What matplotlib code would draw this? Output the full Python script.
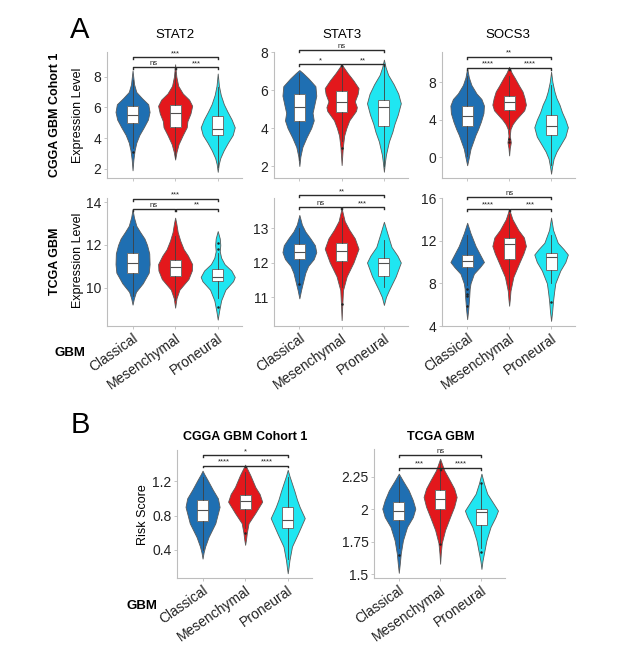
import numpy as np
import matplotlib
matplotlib.use('Agg')
import matplotlib.pyplot as plt

plt.rcParams['font.family'] = ['Liberation Sans', 'DejaVu Sans']

W, H = 630, 653

groups = ['Classical', 'Mesenchymal', 'Proneural']
group_colors = ['#1f6fb2', '#e3181c', '#1fe6f1']

# violin outlines: (value, relative half width)
# boxes: (whisker low, q1, median, q3, whisker high)

# CGGA GBM cohort 1 - STAT2
cgga_stat2_shape = [
    [(1.9, 0), (2.6, .05), (3.2, .12), (3.7, .22), (4.2, .4), (4.7, .66), (5.2, .9), (5.7, 1), (6.2, .92), (6.6, .55), (7.0, .22), (7.5, .09), (8.0, .04), (8.4, 0)],
    [(2.6, 0), (3.1, .08), (3.6, .2), (4.2, .45), (4.7, .68), (5.1, .72), (5.6, .9), (6.1, 1), (6.5, .82), (6.9, .45), (7.4, .18), (8.0, .07), (8.8, 0)],
    [(1.8, 0), (2.3, .06), (2.7, .15), (3.2, .35), (3.7, .6), (4.2, .88), (4.7, 1), (5.2, .82), (5.7, .58), (6.2, .36), (6.8, .18), (7.4, .07), (8.2, 0)],
]
cgga_stat2_box = [(3.35, 5.0, 5.5, 6.1, 7.75), (2.7, 4.72, 5.63, 6.13, 8.3), (2.1, 4.18, 4.6, 5.46, 7.3)]
cgga_stat2_fliers = [[3.07], [], []]
cgga_stat2_sig = (9.26, '***', 8.63, 'ns', '***')

# CGGA GBM cohort 1 - STAT3
cgga_stat3_shape = [
    [(2.0, 0), (2.5, .06), (3.0, .18), (3.5, .42), (4.0, .7), (4.4, .85), (4.8, .78), (5.2, .88), (5.7, 1), (6.2, .95), (6.6, .55), (6.9, .2), (7.05, 0)],
    [(2.05, 0), (2.6, .04), (3.0, .07), (3.6, .15), (4.0, .28), (4.4, .45), (4.9, .85), (5.1, .9), (5.4, .78), (5.8, .95), (6.1, 1), (6.5, .7), (6.9, .35), (7.35, 0)],
    [(1.7, 0), (2.2, .06), (2.6, .12), (3.3, .3), (3.8, .5), (4.2, .62), (4.7, .82), (5.3, 1), (5.8, .85), (6.3, .58), (6.8, .25), (7.2, .1), (7.6, 0)],
]
cgga_stat3_box = [(2.3, 4.37, 5.12, 5.79, 6.9), (3.3, 4.82, 5.35, 5.95, 7.3), (2.0, 4.12, 5.1, 5.47, 7.3)]
cgga_stat3_fliers = [[], [2.95], []]
cgga_stat3_sig = (8.1, 'ns', 7.35, '*', '**')

# CGGA GBM cohort 1 - SOCS3
cgga_socs3_shape = [
    [(-0.85, 0), (0.0, .1), (0.9, .2), (1.8, .38), (2.4, .5), (3.0, .65), (3.8, .82), (4.7, .97), (5.5, 1), (6.2, .85), (6.8, .55), (7.7, .25), (8.5, .1), (9.46, 0)],
    [(0.2, 0), (1.0, .04), (1.6, .1), (2.3, .04), (3.0, .08), (3.5, .2), (4.0, .4), (4.5, .65), (5.0, .9), (5.6, 1), (6.3, .92), (7.0, .8), (7.6, .6), (8.4, .35), (9.0, .15), (9.63, 0)],
    [(-1.74, 0), (-1.0, .06), (-0.14, .15), (0.6, .32), (1.3, .55), (2.2, .85), (3.2, 1), (4.0, .85), (4.8, .65), (5.6, .5), (6.3, .32), (7.0, .2), (8.0, .08), (9.1, 0)],
]
cgga_socs3_box = [(0.1, 3.3, 4.4, 5.44, 8.6), (3.0, 5.08, 5.83, 6.54, 8.7), (-0.8, 2.42, 3.34, 4.55, 7.7)]
cgga_socs3_fliers = [[], [1.6, 1.9], []]
cgga_socs3_sig = (10.7, '**', 9.53, '****', '****')

# TCGA GBM - STAT2
tcga_stat2_shape = [
    [(9.2, 0), (9.5, .08), (9.8, .2), (10.2, .6), (10.7, .95), (11.1, 1), (11.6, .98), (12.0, .85), (12.3, .7), (12.6, .45), (12.9, .22), (13.3, .08), (13.67, 0)],
    [(9.06, 0), (9.5, .08), (9.9, .25), (10.4, .78), (10.8, .98), (11.1, 1), (11.5, .75), (11.8, .5), (12.2, .3), (12.6, .15), (13.0, .07), (13.28, 0)],
    [(8.5, 0), (8.9, .08), (9.4, .2), (9.9, .45), (10.3, .9), (10.5, 1), (10.8, .8), (11.1, .4), (11.4, .2), (11.7, .12), (12.0, .15), (12.3, .12), (12.65, 0)],
]
tcga_stat2_box = [(9.6, 10.69, 11.16, 11.6, 12.9), (9.4, 10.53, 10.97, 11.29, 12.4), (9.5, 10.3, 10.5, 10.85, 11.6)]
tcga_stat2_fliers = [[], [], [12.07, 11.79, 9.09]]
tcga_stat2_sig = (14.17, '***', 13.7, 'ns', '**')

# TCGA GBM - STAT3
tcga_stat3_shape = [
    [(10.96, 0), (11.2, .1), (11.5, .25), (11.7, .35), (11.9, .52), (12.1, .85), (12.3, 1), (12.5, .92), (12.7, .65), (12.9, .35), (13.1, .15), (13.38, 0)],
    [(10.33, 0), (10.8, .04), (11.2, .08), (11.6, .3), (12.0, .7), (12.4, 1), (12.7, .78), (12.95, .45), (13.2, .18), (13.57, 0)],
    [(10.77, 0), (11.0, .12), (11.2, .3), (11.6, .7), (12.0, 1), (12.2, .8), (12.45, .45), (12.85, .2), (13.18, 0)],
]
tcga_stat3_box = [(11.4, 12.09, 12.31, 12.53, 13.0), (11.3, 12.05, 12.33, 12.56, 13.3), (11.3, 11.61, 11.98, 12.12, 12.65)]
tcga_stat3_fliers = [[11.37], [10.8], []]
tcga_stat3_sig = (13.96, '**', 13.6, 'ns', '***')

# TCGA GBM - SOCS3
tcga_socs3_shape = [
    [(4.64, 0), (5.5, .06), (6.7, .12), (7.5, .15), (8.0, .2), (8.9, .4), (9.5, .75), (10.0, 1), (10.6, .8), (11.5, .5), (12.7, .2), (13.68, 0)],
    [(5.9, 0), (6.5, .04), (7.3, .08), (8.6, .25), (9.9, .6), (10.8, .85), (11.5, 1), (12.3, .88), (13.0, .55), (14.0, .2), (14.95, 0)],
    [(4.48, 0), (5.3, .06), (6.4, .12), (7.2, .18), (8.0, .25), (9.2, .55), (10.0, .85), (10.7, 1), (11.2, .75), (11.8, .4), (13.0, .12), (14.16, 0)],
]
tcga_socs3_box = [(7.8, 9.49, 10.1, 10.67, 12.5), (7.5, 10.29, 11.68, 12.25, 14.5), (8.0, 9.24, 10.5, 10.83, 12.5)]
tcga_socs3_fliers = [[7.5, 7.0, 6.8, 5.9], [], [6.22]]
tcga_socs3_sig = (16.07, 'ns', 15.0, '****', '***')

# risk score - CGGA GBM cohort 1
cgga_risk_shape = [
    [(0.30, 0), (0.37, .06), (0.44, .15), (0.55, .35), (0.71, .75), (0.9, 1), (1.0, .9), (1.1, .6), (1.21, .3), (1.28, .1), (1.32, 0)],
    [(0.46, 0), (0.52, .05), (0.6, .1), (0.71, .2), (0.83, .6), (0.96, 1), (1.05, .85), (1.13, .6), (1.27, .3), (1.39, 0)],
    [(0.13, 0), (0.2, .05), (0.28, .1), (0.44, .25), (0.59, .6), (0.77, 1), (0.9, .7), (0.98, .55), (1.08, .4), (1.17, .25), (1.26, .1), (1.33, 0)],
]
cgga_risk_box = [(0.4, 0.74, 0.86, 0.98, 1.25), (0.65, 0.88, 0.97, 1.04, 1.3), (0.3, 0.66, 0.75, 0.90, 1.25)]
cgga_risk_fliers = [[], [0.6], []]
cgga_risk_sig = (1.50, '*', 1.38, '****', '****')

# risk score - TCGA GBM
tcga_risk_shape = [
    [(1.51, 0), (1.58, .06), (1.66, .12), (1.76, .25), (1.864, .5), (1.94, .85), (2.005, 1), (2.07, .85), (2.146, .6), (2.22, .25), (2.275, 0)],
    [(1.58, 0), (1.66, .04), (1.74, .1), (1.84, .3), (1.94, .6), (2.02, .85), (2.095, 1), (2.16, .85), (2.22, .6), (2.3, .25), (2.39, 0)],
    [(1.54, 0), (1.6, .06), (1.66, .15), (1.76, .3), (1.864, .55), (1.94, .85), (1.99, 1), (2.05, .7), (2.12, .35), (2.2, .15), (2.275, 0)],
]
tcga_risk_box = [(1.7, 1.92, 1.99, 2.06, 2.25), (1.75, 2.0, 2.08, 2.15, 2.37), (1.7, 1.88, 1.98, 2.005, 2.2)]
tcga_risk_fliers = [[1.65], [1.73], [2.2, 1.67]]
tcga_risk_sig = (2.415, 'ns', 2.32, '***', '****')


def rect(x0, y0, x1, y1):
    return [x0 / W, 1 - y1 / H, (x1 - x0) / W, (y1 - y0) / H]


def ftext(x, y, s, **kw):
    fig.text(x / W, 1 - y / H, s, **kw)


def draw_panel(ax, shapes, boxes, fliers, sig, ylim, yticks, yticklabels=None, xlabels=True):
    pos = [1, 2, 3]
    vstats = []
    for shape, b in zip(shapes, boxes):
        ys = np.array([p[0] for p in shape])
        ws = np.array([p[1] for p in shape])
        vstats.append(dict(coords=ys, vals=ws, mean=b[2], median=b[2], min=ys.min(), max=ys.max()))
    parts = ax.violin(vstats, positions=pos, widths=0.8, showextrema=False)
    for body, c in zip(parts['bodies'], group_colors):
        body.set_facecolor(c)
        body.set_edgecolor('#5a5a5a')
        body.set_linewidth(0.6)
        body.set_alpha(1)

    bstats = [dict(whislo=b[0], q1=b[1], med=b[2], q3=b[3], whishi=b[4], fliers=f)
              for b, f in zip(boxes, fliers)]
    ax.bxp(bstats, positions=pos, widths=0.26, patch_artist=True, showcaps=False,
           manage_ticks=False,
           boxprops=dict(facecolor='white', edgecolor='#707070', linewidth=0.7),
           medianprops=dict(color='#505050', linewidth=0.8),
           whiskerprops=dict(color='#404040', linewidth=0.6),
           flierprops=dict(marker='o', markersize=1.8, markerfacecolor='#222222',
                           markeredgecolor='none'))

    # significance brackets
    d = 0.015 * (ylim[1] - ylim[0])
    top, top_lab, low, left_lab, right_lab = sig
    kw = dict(color='#2b2b2b', lw=1.0, clip_on=False)
    ax.plot([1, 1, 3, 3], [top - d, top, top, top - d], **kw)
    ax.plot([1, 1, 1.99, 1.99], [low - d, low, low, low - d], **kw)
    ax.plot([2.01, 2.01, 3, 3], [low - d, low, low, low - d], **kw)
    tk = dict(ha='center', va='bottom', fontsize=5.5, color='#222222')
    ax.text(2, top, top_lab, **tk)
    ax.text(1.5, low, left_lab, **tk)
    ax.text(2.5, low, right_lab, **tk)

    ax.set_xlim(0.4, 3.57)
    ax.set_ylim(*ylim)
    ax.set_yticks(yticks)
    if yticklabels is not None:
        ax.set_yticklabels(yticklabels)
    ax.set_xticks(pos)
    if xlabels:
        ax.set_xticklabels(groups, rotation=35, ha='right', rotation_mode='anchor', fontsize=9.5)
    else:
        ax.set_xticklabels([])
    for s in ['top', 'right']:
        ax.spines[s].set_visible(False)
    for s in ['left', 'bottom']:
        ax.spines[s].set_color('#bdbdbd')
        ax.spines[s].set_linewidth(0.8)
    ax.tick_params(length=2, width=0.6, color='#bdbdbd', labelsize=10,
                   labelcolor='#222222', pad=2)


fig = plt.figure(figsize=(6.3, 6.53), dpi=100)

ax1 = fig.add_axes(rect(107, 52, 242, 178))
draw_panel(ax1, cgga_stat2_shape, cgga_stat2_box, cgga_stat2_fliers, cgga_stat2_sig,
           (1.4, 9.6), [2, 4, 6, 8], xlabels=False)
ax2 = fig.add_axes(rect(274, 52, 408, 178))
draw_panel(ax2, cgga_stat3_shape, cgga_stat3_box, cgga_stat3_fliers, cgga_stat3_sig,
           (1.37, 8.0), [2, 4, 6, 8], xlabels=False)
ax3 = fig.add_axes(rect(442, 52, 575, 178))
draw_panel(ax3, cgga_socs3_shape, cgga_socs3_box, cgga_socs3_fliers, cgga_socs3_sig,
           (-2.2, 11.2), [0, 4, 8], xlabels=False)

ax4 = fig.add_axes(rect(107, 198, 242, 326))
draw_panel(ax4, tcga_stat2_shape, tcga_stat2_box, tcga_stat2_fliers, tcga_stat2_sig,
           (8.2, 14.2), [10, 12, 14])
ax5 = fig.add_axes(rect(274, 198, 408, 326))
draw_panel(ax5, tcga_stat3_shape, tcga_stat3_box, tcga_stat3_fliers, tcga_stat3_sig,
           (10.16, 13.87), [11, 12, 13])
ax6 = fig.add_axes(rect(442, 198, 575, 326))
draw_panel(ax6, tcga_socs3_shape, tcga_socs3_box, tcga_socs3_fliers, tcga_socs3_sig,
           (4, 16), [4, 8, 12, 16])

ax7 = fig.add_axes(rect(177, 450, 312, 578))
draw_panel(ax7, cgga_risk_shape, cgga_risk_box, cgga_risk_fliers, cgga_risk_sig,
           (0.075, 1.56), [0.4, 0.8, 1.2])
ax8 = fig.add_axes(rect(374, 449, 505, 578))
draw_panel(ax8, tcga_risk_shape, tcga_risk_box, tcga_risk_fliers, tcga_risk_sig,
           (1.47, 2.465), [1.5, 1.75, 2, 2.25], ['1.5', '1.75', '2', '2.25'])

# panel letters, titles and side labels
ftext(80, 30, 'A', fontsize=21, ha='center', va='center')
ftext(80, 425, 'B', fontsize=21, ha='center', va='center')
for x, t in [(175, 'STAT2'), (342, 'STAT3'), (508, 'SOCS3')]:
    ftext(x, 35, t, fontsize=9.5, ha='center', va='center')
ftext(245, 437, 'CGGA GBM Cohort 1', fontsize=9, fontweight='bold', ha='center', va='center')
ftext(441, 437, 'TCGA GBM', fontsize=9, fontweight='bold', ha='center', va='center')

ftext(55, 115, 'CGGA GBM Cohort 1', fontsize=9, fontweight='bold', rotation=90, ha='center', va='center')
ftext(78, 115, 'Expression Level', fontsize=9, rotation=90, ha='center', va='center')
ftext(55, 261, 'TCGA GBM', fontsize=9, fontweight='bold', rotation=90, ha='center', va='center')
ftext(78, 260, 'Expression Level', fontsize=9, rotation=90, ha='center', va='center')
ftext(143, 515, 'Risk Score', fontsize=9, rotation=90, ha='center', va='center')
ftext(70, 353, 'GBM', fontsize=9.5, fontweight='bold', ha='center', va='center')
ftext(142, 606, 'GBM', fontsize=9.5, fontweight='bold', ha='center', va='center')

fig.savefig('out.png', dpi=100)
